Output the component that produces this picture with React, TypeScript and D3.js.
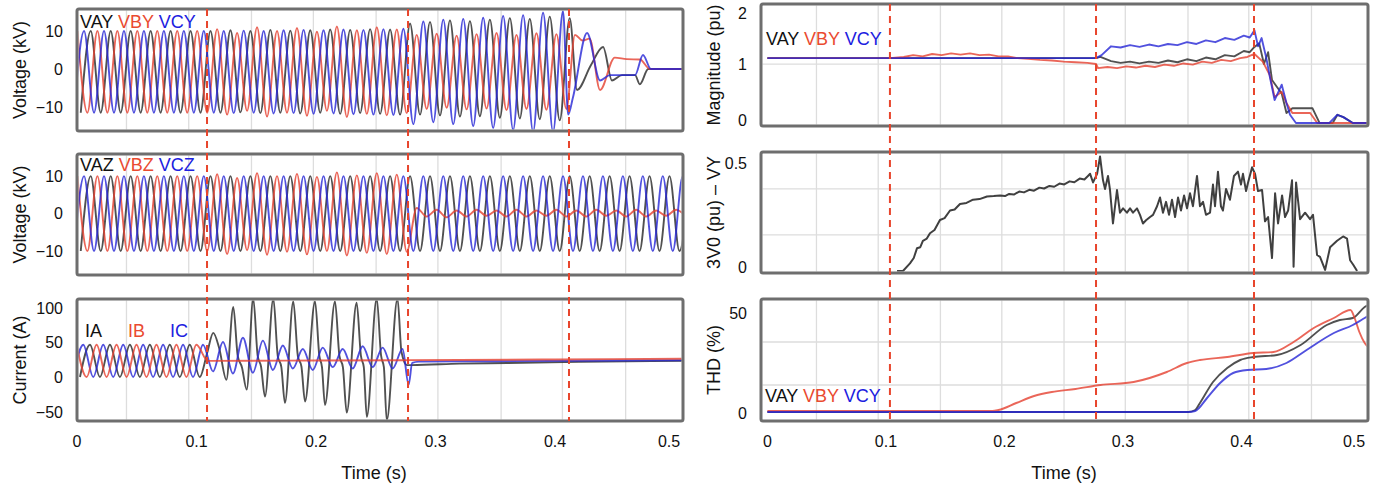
import React from "react";
import * as d3 from "d3";

type Pt = [number, number];

// ---------------- axes / reference values ----------------
const timeTicks = [0, 0.1, 0.2, 0.3, 0.4, 0.5];
const gridTimes = [0.0414, 0.0935, 0.146, 0.1978, 0.2503, 0.302, 0.3549, 0.4062, 0.4591];
const eventTimesLeft = [0.1088, 0.277, 0.4117];
const eventTimesRight = [0.1034, 0.2773, 0.4106];

const voltTicks = [-10, 0, 10];
const currentTicks = [-50, 0, 50, 100];
const magTicks = [0, 1, 2];
const v0Ticks = [0, 0.5];
const thdTicks = [0, 50];
const magGrid = [1];
const v0Grid = [0.167, 0.38];
const thdGrid = [14, 35.5];

// time between successive peak / trough of the 60 Hz traces (as read on the picture's axis)
const HALF_CYCLE = 0.00835;

// ---------------- Y-side voltages (kV): successive extrema ----------------
const vayStart = 0.00315;
const vayExtrema = [
  -11.5, 10, -11.5, 10, -11.5, 10, -11.5, 10, -11.5, 10, -11.5, 10, -11.5,
  10, -11.5, 10.2, -11.4, 10, -11.6, 10.3, -11.5, 10.1, -11.7, 10.2, -11.5, 10.4, -11.8, 10.3, -11.6, 10.5, -11.8, 10.4, -12,
  12, -12, 12.4, -12.2, 12.8, -12.5, 12.6, -12.4, 13, -12.8, 13.4, -13, 13.2, -13.2, 13.8, -13.5, 13.4,
];
const vayTail: Pt[] = [[0.4184, -5.5], [0.43, 1], [0.4402, 5.8], [0.4477, -3], [0.456, -1.6], [0.467, -1.6], [0.471, -4], [0.478, 0], [0.5071, 0]];

const vbyStart = 0.00037;
const vbyExtrema = [
  10, -11.5, 10, -11.5, 10, -11.5, 10, -11.5, 10, -11.5, 10, -11.5, 10, -11.5,
  10.5, -12, 9.5, -11, 11, -12.5, 10, -11.5, 10.8, -12.3, 9.8, -11, 11.2, -12.6, 10.2, -11.8, 11, -12.2, 10.4, -11.6,
  9, -10.5, 9.3, -10.2, 8.8, -10.6, 9.2, -10.4, 9.5, -10.8, 9, -10.5, 9.4, -10.7, 9.2, -10.5,
];
const vbyTail: Pt[] = [[0.4167, 9], [0.423, 7.5], [0.429, 8], [0.4377, -5.5], [0.45, 3], [0.46, 2.6], [0.471, 2.5], [0.4795, 0], [0.5071, 0]];

const vcyStart = -0.00245;
const vcyExtrema = [
  -11.5, 10, -11.5, 10, -11.5, 10, -11.5, 10, -11.5, 10, -11.5, 10, -11.5, 10,
  -11.5, 10, -11.6, 10.1, -11.5, 10, -11.7, 10.2, -11.6, 10.3, -11.8, 10.2, -11.7, 10.4, -11.9, 10.3, -12, 10.5, -12.1, 10.6,
  -14.5, 12.5, -14, 13, -14.5, 13.2, -15, 13.5, -15.5, 14, -16, 14.2, -16.5, 14.8, -16.5, 15.2,
];
const vcyTail: Pt[] = [[0.411, -12], [0.415, -7.5], [0.4268, 9.5], [0.4377, -3], [0.446, -1.6], [0.467, -1.6], [0.4736, 3.7], [0.4803, 0], [0.5071, 0]];

// ---------------- Z-side voltages (kV) ----------------
const vazExtrema = [
  -10, 10, -10, 10, -10, 10, -10, 10, -10, 10, -10, 10, -10, 10, -10, 10, -10, 10, -10, 10,
  -10, 10, -10, 10, -10, 10, -10, 10, -10, 10, -10, 10, -10, 10, -10, 10, -10, 10, -10, 10,
  -10, 10, -10, 10, -10, 10, -10, 10, -10, 10, -10, 10, -10, 10, -10, 10, -10, 10, -10, 10,
  -10, 10,
];
const vbzExtrema = [
  10, -10, 10, -10, 10, -10, 10, -10, 10, -10, 10, -10, 10, -10,
  10.5, -10.8, 9.5, -9.8, 10.8, -11, 10, -10.2, 10.6, -10.9, 9.8, -10, 11, -11.2, 10.2, -10.5, 10.8, -10.8, 10.4, -10.2,
  1.5, -0.8, 1, -1, 0.8, -0.8, 1, -0.6, 0.8, -0.8, 1, -0.8, 0.8, -0.6, 1, -0.8, 0.8, -0.8, 1, -0.6, 0.8, -0.8, 1, -0.8, 0.8, -0.6, 1, -0.8,
];
const vczExtrema = [
  -10, 10, -10, 10, -10, 10, -10, 10, -10, 10, -10, 10, -10, 10, -10, 10, -10, 10, -10, 10,
  -10, 10, -10, 10, -10, 10, -10, 10, -10, 10, -10, 10, -10, 10, -10, 10, -10, 10, -10, 10,
  -10, 10, -10, 10, -10, 10, -10, 10, -10, 10, -10, 10, -10, 10, -10, 10, -10, 10, -10, 10,
  -10, 10, -10,
];

// ---------------- currents (A) ----------------
const iaStart = 0.0025;
const iaExtrema = [0, 46, 0, 46, 0, 46, 0, 46, 0, 46, 0, 46, 0];
const iaFault: Pt[] = [
  [0.109, 35], [0.114, 63], [0.119, 41], [0.125, -4], [0.1308, 100], [0.1345, 30], [0.138, 14], [0.142, -18],
  [0.1475, 112], [0.1512, 30], [0.154, 15], [0.1573, -28], [0.1643, 112], [0.168, 30], [0.171, 14], [0.174, -37],
  [0.181, 108], [0.1848, 30], [0.1878, 15], [0.1908, -35], [0.1992, 108], [0.2028, 30], [0.205, 14], [0.2075, -40],
  [0.2159, 108], [0.2196, 30], [0.2225, 14], [0.2257, -51], [0.234, 106], [0.2376, 30], [0.24, 14], [0.2425, -57],
  [0.2508, 112], [0.2545, 30], [0.2568, 14], [0.2592, -62], [0.2682, 112], [0.2715, 36], [0.276, 17],
  [0.28, 17], [0.32, 19], [0.36, 20], [0.42, 21.5], [0.5071, 23],
];
const ibStart = -0.0003;
const ibExtrema = [46, 0, 46, 0, 46, 0, 46, 0, 46, 0, 46, 0, 46];
const ibTail: Pt[] = [[0.1095, 23], [0.2, 23.5], [0.277, 24], [0.4, 25], [0.5071, 26]];
const icStart = -0.0031;
const icExtrema = [
  0, 46, 0, 46, 0, 46, 0, 46, 0, 46, 0, 46, 0, 46,
  8, 50, 5, 56, 6, 52, 10, 45, 12, 40, 10, 42, 14, 40, 12, 44, 14, 42, 12, 40,
];
const icTail: Pt[] = [[0.2775, -11], [0.2805, 20], [0.286, 22], [0.35, 22.5], [0.5071, 24]];

// ---------------- magnitude (pu) ----------------
const magVAY: Pt[] = [
  [0, 1.1], [0.1034, 1.1], [0.2, 1.1], [0.2773, 1.1], [0.281, 1.12], [0.29, 1.05], [0.298, 1.02], [0.306, 1.04],
  [0.314, 1.01], [0.322, 1.04], [0.33, 1.02], [0.338, 1.06], [0.346, 1.03], [0.354, 1.08], [0.362, 1.05], [0.37, 1.11],
  [0.378, 1.08], [0.386, 1.15], [0.394, 1.13], [0.402, 1.22], [0.407, 1.2], [0.411, 1.29], [0.415, 1.35], [0.419, 1.0],
  [0.4225, 1.2], [0.4258, 0.73], [0.43, 0.61], [0.434, 0.5], [0.438, 0.17], [0.443, 0.25], [0.46, 0.25], [0.466, 0],
  [0.477, 0], [0.481, 0.14], [0.486, 0.1], [0.494, 0], [0.5068, 0],
];
const magVBY: Pt[] = [
  [0, 1.1], [0.1034, 1.1], [0.115, 1.12], [0.123, 1.15], [0.131, 1.13], [0.139, 1.17], [0.147, 1.15], [0.155, 1.18],
  [0.163, 1.16], [0.171, 1.18], [0.179, 1.15], [0.187, 1.16], [0.195, 1.13], [0.203, 1.13], [0.211, 1.1], [0.22, 1.09],
  [0.23, 1.07], [0.24, 1.06], [0.25, 1.04], [0.26, 1.03], [0.27, 1.02], [0.2773, 1.0], [0.279, 0.93], [0.287, 0.95],
  [0.295, 0.93], [0.303, 0.96], [0.311, 0.94], [0.319, 0.97], [0.327, 0.95], [0.335, 0.99], [0.343, 0.97], [0.351, 1.01],
  [0.359, 0.99], [0.367, 1.04], [0.375, 1.02], [0.383, 1.07], [0.391, 1.05], [0.399, 1.1], [0.405, 1.12], [0.411, 1.17],
  [0.418, 1.04], [0.424, 0.81], [0.428, 0.44], [0.434, 0.53], [0.438, 0.34], [0.443, 0.17], [0.458, 0.17], [0.464, 0],
  [0.5068, 0],
];
const magVCY: Pt[] = [
  [0, 1.1], [0.2773, 1.1], [0.282, 1.15], [0.29, 1.3], [0.298, 1.28], [0.306, 1.32], [0.314, 1.29], [0.322, 1.33],
  [0.33, 1.3], [0.338, 1.34], [0.346, 1.32], [0.354, 1.37], [0.362, 1.34], [0.37, 1.4], [0.378, 1.37], [0.386, 1.44],
  [0.394, 1.41], [0.402, 1.48], [0.407, 1.45], [0.411, 1.57], [0.414, 1.3], [0.417, 1.44], [0.421, 1.1], [0.424, 0.78],
  [0.428, 0.39], [0.434, 0.65], [0.438, 0.34], [0.441, 0.14], [0.446, 0], [0.474, 0], [0.481, 0.14], [0.486, 0.1],
  [0.494, 0], [0.5068, 0],
];

// ---------------- 3V0 (pu) ----------------
const v0VY: Pt[] = [
  [0.1094, 0], [0.1144, 0], [0.1203, 0.035], [0.1235, 0.06], [0.1262, 0.105], [0.129, 0.11], [0.1312, 0.14], [0.1345, 0.15],
  [0.1372, 0.175], [0.141, 0.19], [0.1456, 0.236], [0.1495, 0.245], [0.1541, 0.28], [0.158, 0.285], [0.1625, 0.31], [0.168, 0.315],
  [0.1735, 0.33], [0.179, 0.333], [0.1853, 0.345], [0.191, 0.347], [0.1963, 0.35], [0.2005, 0.347], [0.204, 0.357], [0.208, 0.354],
  [0.2125, 0.368], [0.2165, 0.364], [0.221, 0.376], [0.225, 0.372], [0.2295, 0.386], [0.2335, 0.382], [0.238, 0.394], [0.242, 0.39],
  [0.2465, 0.405], [0.2505, 0.401], [0.255, 0.415], [0.259, 0.411], [0.2635, 0.428], [0.2675, 0.424], [0.2705, 0.44], [0.2723, 0.45],
  [0.2748, 0.41], [0.2782, 0.45],
  [0.2807, 0.53], [0.2832, 0.42], [0.2849, 0.38], [0.2874, 0.44], [0.2891, 0.375], [0.2916, 0.22], [0.295, 0.375], [0.2975, 0.27],
  [0.3001, 0.29], [0.3034, 0.27], [0.306, 0.29], [0.3085, 0.27], [0.3119, 0.29], [0.3144, 0.26], [0.3169, 0.22], [0.3195, 0.235],
  [0.3229, 0.25], [0.3254, 0.26], [0.3288, 0.3], [0.3313, 0.34], [0.3338, 0.27], [0.3364, 0.32], [0.3389, 0.26], [0.3414, 0.33],
  [0.344, 0.25], [0.3465, 0.34], [0.349, 0.28], [0.3516, 0.35], [0.3541, 0.29], [0.3566, 0.36], [0.3591, 0.3], [0.3625, 0.44],
  [0.365, 0.3], [0.3676, 0.32], [0.3701, 0.26], [0.3735, 0.27], [0.376, 0.4], [0.3777, 0.3], [0.3802, 0.46], [0.3827, 0.3],
  [0.3844, 0.28], [0.387, 0.38], [0.3903, 0.33], [0.3937, 0.44], [0.3971, 0.46], [0.3996, 0.4], [0.4013, 0.45], [0.4039, 0.37],
  [0.4056, 0.41], [0.409, 0.48], [0.4115, 0.45], [0.414, 0.37], [0.4174, 0.375], [0.4199, 0.23], [0.4225, 0.25], [0.4258, 0.06],
  [0.4284, 0.36], [0.4309, 0.22], [0.4343, 0.35], [0.4368, 0.25], [0.4394, 0.28], [0.4427, 0.42], [0.444, 0.02], [0.4461, 0.41],
  [0.4495, 0.24], [0.4537, 0.27], [0.4579, 0.24], [0.4604, 0.26], [0.4638, 0.074], [0.4663, 0.065], [0.4706, 0.005], [0.4748, 0.11],
  [0.4807, 0.14], [0.4858, 0.16], [0.4891, 0.15], [0.4917, 0.05], [0.4942, 0.03], [0.4976, 0],
];

// ---------------- THD (%) ----------------
const thdVAY: Pt[] = [
  [0, 0.5], [0.355, 0.5], [0.361, 1.5], [0.365, 5], [0.376, 15.5], [0.388, 22.5], [0.399, 26.5], [0.41, 28],
  [0.43, 29], [0.45, 34], [0.472, 44], [0.483, 46.5], [0.494, 47.5], [0.504, 53], [0.5068, 54],
];
const thdVBY: Pt[] = [
  [0, 1], [0.19, 1], [0.195, 1.5], [0.21, 5], [0.225, 8.5], [0.24, 10.5], [0.26, 12], [0.281, 14], [0.309, 15.5],
  [0.337, 20.5], [0.354, 25], [0.365, 26.5], [0.388, 28], [0.41, 30], [0.427, 30.5], [0.444, 35.5], [0.461, 42.5],
  [0.478, 47.5], [0.492, 51.5], [0.4955, 47.5], [0.4995, 40.5], [0.504, 35], [0.5068, 33],
];
const thdVCY: Pt[] = [
  [0, 0.5], [0.355, 0.5], [0.361, 1], [0.371, 7.5], [0.382, 15], [0.393, 20], [0.405, 21.5], [0.421, 22],
  [0.438, 25], [0.455, 31.5], [0.478, 40], [0.494, 44], [0.504, 47.5], [0.5068, 48.5],
];

// ---------------- styling / layout ----------------
const FONT = "'Liberation Sans', Arial, Helvetica, sans-serif";
const BLACK = "#262626";
const RED = "#e5402f";
const BLUE = "#2626d6";
const TXT_BLACK = "#111111";
const TXT_RED = "#ea4a30";
const TXT_BLUE = "#2020e0";

const fromExtrema = (t0: number, vals: number[]): Pt[] => vals.map((v, i) => [t0 + i * HALF_CYCLE, v] as Pt);
const fmt = (v: number) => (v < 0 ? "\u2212" + Math.abs(v) : String(v));

interface SeriesDef {
  data: Pt[];
  color: string;
  width?: number;
  opacity?: number;
  curve?: d3.CurveFactory;
}

interface PanelProps {
  id: string;
  xs: d3.ScaleLinear<number, number>;
  x0: number;
  x1: number;
  top: number;
  bottom: number;
  yDomain: [number, number];
  yTicks: number[];
  gridY?: number[];
  series: SeriesDef[];
  title: string;
  titleX: number;
  legend?: React.ReactNode;
}

function Panel(p: PanelProps) {
  const y = d3.scaleLinear().domain(p.yDomain).range([p.bottom, p.top]);
  const clipId = `clip-${p.id}`;
  return (
    <g>
      <rect x={p.x0} y={p.top} width={p.x1 - p.x0} height={p.bottom - p.top} fill="#ffffff" />
      <clipPath id={clipId}>
        <rect x={p.x0 + 1.5} y={p.top + 1.5} width={p.x1 - p.x0 - 3} height={p.bottom - p.top - 3} />
      </clipPath>
      <g clipPath={`url(#${clipId})`}>
        {gridTimes.map((t) => (
          <line key={"gx" + t} x1={p.xs(t)} x2={p.xs(t)} y1={p.top} y2={p.bottom} stroke="#dddddd" strokeWidth={1.3} />
        ))}
        {(p.gridY || []).map((v) => (
          <line key={"gy" + v} x1={p.x0} x2={p.x1} y1={y(v)} y2={y(v)} stroke="#dddddd" strokeWidth={1.3} />
        ))}
        {p.series.map((s, i) => {
          const gen = d3
            .line<Pt>()
            .x((d) => p.xs(d[0]))
            .y((d) => y(d[1]))
            .curve(s.curve ?? d3.curveMonotoneX);
          return (
            <path
              key={i}
              d={gen(s.data) ?? ""}
              fill="none"
              stroke={s.color}
              strokeWidth={s.width ?? 1.9}
              strokeOpacity={s.opacity ?? 0.8}
              strokeLinejoin="round"
            />
          );
        })}
        {p.legend}
      </g>
      <rect
        x={p.x0}
        y={p.top}
        width={p.x1 - p.x0}
        height={p.bottom - p.top}
        fill="none"
        stroke="#6e6e6e"
        strokeWidth={3}
        rx={2}
      />
      {p.yTicks.map((v) => {
        const yy = Math.max(p.top + 9, Math.min(p.bottom - 6, y(v)));
        return (
          <text key={v} x={p.x0 - 14} y={yy} dy="0.35em" textAnchor="end" fontSize={16} fill={TXT_BLACK}>
            {fmt(v)}
          </text>
        );
      })}
      <text
        transform={`translate(${p.titleX},${(p.top + p.bottom) / 2}) rotate(-90)`}
        textAnchor="middle"
        dy="0.35em"
        fontSize={18}
        fill={TXT_BLACK}
      >
        {p.title}
      </text>
    </g>
  );
}

function Legend3({ x, y, labels }: { x: number; y: number; labels: string[] }) {
  return (
    <text x={x} y={y} fontSize={18}>
      <tspan fill={TXT_BLACK}>{labels[0] + " "}</tspan>
      <tspan fill={TXT_RED}>{labels[1] + " "}</tspan>
      <tspan fill={TXT_BLUE}>{labels[2]}</tspan>
    </text>
  );
}

export default function App() {
  const L = { x0: 77, x1: 683 };
  const R = { x0: 761, x1: 1368 };
  const xL = d3.scaleLinear().domain([0, 0.5071]).range([L.x0, L.x1]);
  const xR = d3.scaleLinear().domain([-0.0054, 0.5068]).range([R.x0, R.x1]);

  const vay = fromExtrema(vayStart, vayExtrema).concat(vayTail);
  const vby = fromExtrema(vbyStart, vbyExtrema).concat(vbyTail);
  const vcy = fromExtrema(vcyStart, vcyExtrema).concat(vcyTail);
  const vaz = fromExtrema(vayStart, vazExtrema);
  const vbz = fromExtrema(vbyStart, vbzExtrema);
  const vcz = fromExtrema(vcyStart, vczExtrema);
  const ia = fromExtrema(iaStart, iaExtrema).concat(iaFault);
  const ib = fromExtrema(ibStart, ibExtrema).concat(ibTail);
  const ic = fromExtrema(icStart, icExtrema).concat(icTail);

  const lin = d3.curveLinear;

  const xAxis = (xs: d3.ScaleLinear<number, number>, x1: number, key: string, titleX: number) => (
    <g key={key}>
      {timeTicks.map((t) => (
        <text key={t} x={Math.min(xs(t), x1 - 14)} y={441} dy="0.35em" textAnchor="middle" fontSize={16} fill={TXT_BLACK}>
          {String(t)}
        </text>
      ))}
      <text x={titleX} y={473} dy="0.35em" textAnchor="middle" fontSize={18} fill={TXT_BLACK}>
        Time (s)
      </text>
    </g>
  );

  return (
    <svg
      width={1380}
      height={487}
      viewBox="0 0 1380 487"
      style={{ position: "absolute", left: 0, top: 0, display: "block", background: "#ffffff" }}
      fontFamily={FONT}
    >
      <rect x={0} y={0} width={1380} height={487} fill="#ffffff" />

      {/* ---------- left column ---------- */}
      <Panel
        id="p1"
        xs={xL}
        x0={L.x0}
        x1={L.x1}
        top={9}
        bottom={131}
        yDomain={[-16.3, 15.8]}
        yTicks={voltTicks}
        title="Voltage (kV)"
        titleX={20}
        series={[
          { data: vay, color: BLACK },
          { data: vby, color: RED },
          { data: vcy, color: BLUE },
        ]}
        legend={<Legend3 x={80} y={28} labels={["VAY", "VBY", "VCY"]} />}
      />
      <Panel
        id="p2"
        xs={xL}
        x0={L.x0}
        x1={L.x1}
        top={154}
        bottom={275}
        yDomain={[-16.4, 15.9]}
        yTicks={voltTicks}
        title="Voltage (kV)"
        titleX={20}
        series={[
          { data: vaz, color: BLACK },
          { data: vbz, color: RED },
          { data: vcz, color: BLUE },
        ]}
        legend={<Legend3 x={80} y={171} labels={["VAZ", "VBZ", "VCZ"]} />}
      />
      <Panel
        id="p3"
        xs={xL}
        x0={L.x0}
        x1={L.x1}
        top={299}
        bottom={421}
        yDomain={[-62.9, 111.4]}
        yTicks={currentTicks}
        title="Current (A)"
        titleX={20}
        series={[
          { data: ia, color: BLACK },
          { data: ic, color: BLUE },
          { data: ib, color: RED },
        ]}
        legend={
          <g fontSize={18}>
            <text x={85} y={337} fill={TXT_BLACK}>IA</text>
            <text x={128} y={337} fill={TXT_RED}>IB</text>
            <text x={170} y={337} fill={TXT_BLUE}>IC</text>
          </g>
        }
      />

      {/* ---------- right column ---------- */}
      <Panel
        id="r1"
        xs={xR}
        x0={R.x0}
        x1={R.x1}
        top={4}
        bottom={126}
        yDomain={[-0.05, 2.017]}
        yTicks={magTicks}
        gridY={magGrid}
        title="Magnitude (pu)"
        titleX={714}
        series={[
          { data: magVAY, color: BLACK, curve: lin },
          { data: magVBY, color: RED, curve: lin },
          { data: magVCY, color: BLUE, curve: lin },
        ]}
        legend={<Legend3 x={766} y={45} labels={["VAY", "VBY", "VCY"]} />}
      />
      <Panel
        id="r2"
        xs={xR}
        x0={R.x0}
        x1={R.x1}
        top={152}
        bottom={273}
        yDomain={[-0.0093, 0.551]}
        yTicks={v0Ticks}
        gridY={v0Grid}
        title="3V0 (pu) – VY"
        titleX={714}
        series={[{ data: v0VY, color: BLACK, curve: lin, width: 2, opacity: 0.88 }]}
      />
      <Panel
        id="r3"
        xs={xR}
        x0={R.x0}
        x1={R.x1}
        top={299}
        bottom={421}
        yDomain={[-4, 57]}
        yTicks={thdTicks}
        gridY={thdGrid}
        title="THD (%)"
        titleX={714}
        series={[
          { data: thdVAY, color: BLACK },
          { data: thdVBY, color: RED },
          { data: thdVCY, color: BLUE },
        ]}
        legend={<Legend3 x={765} y={402} labels={["VAY", "VBY", "VCY"]} />}
      />

      {/* ---------- event markers ---------- */}
      {eventTimesLeft.map((t) => (
        <line key={"el" + t} x1={xL(t)} x2={xL(t)} y1={9} y2={421} stroke="#e8452c" strokeWidth={2} strokeDasharray="7 5" />
      ))}
      {eventTimesRight.map((t) => (
        <line key={"er" + t} x1={xR(t)} x2={xR(t)} y1={4} y2={421} stroke="#e8452c" strokeWidth={2} strokeDasharray="7 5" />
      ))}

      {xAxis(xL, L.x1, "axL", 374)}
      {xAxis(xR, R.x1, "axR", 1064)}
    </svg>
  );
}
